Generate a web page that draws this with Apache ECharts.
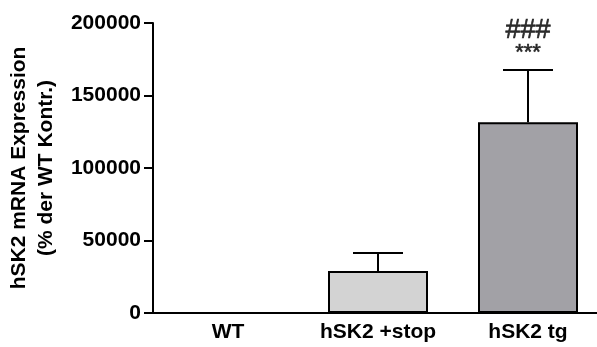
<!DOCTYPE html>
<html><head><meta charset="utf-8">
<script src="https://cdn.jsdelivr.net/npm/echarts@6/dist/echarts.min.js"></script>
<style>html,body{margin:0;padding:0;background:#fff}#c{width:597px;height:347px}</style>
</head><body><div id="c"></div>
<script>
var categories = ['WT', 'hSK2 +stop', 'hSK2 tg'];
var means = [100, 29000, 131500];
var errUpper = [100, 41300, 167600];
var barColors = ['#ffffff', '#d3d3d3', '#a2a1a6'];
var yTicks = [0, 50000, 100000, 150000, 200000];
var annotations = [
  {cat: 2, value: 179300, text: '***', size: 22},
  {cat: 2, value: 195000, text: '###', size: 27}
];

var chart = echarts.init(document.getElementById('c'), null, {renderer: 'canvas'});
var font = 'Liberation Sans, Arial, sans-serif';
chart.setOption({
  animation: false,
  grid: {left: 153, right: -6, top: 23, bottom: 34, containLabel: false, outerBoundsMode: 'none'},
  xAxis: {
    type: 'category', data: categories,
    axisLine: {lineStyle: {color: '#000', width: 2}},
    axisTick: {alignWithLabel: true, length: 7, lineStyle: {color: '#000', width: 2}},
    axisLabel: {color: '#000', fontWeight: 'bold', fontSize: 21, fontFamily: font, margin: 9,
      interval: 0, hideOverlap: false}
  },
  yAxis: {
    type: 'value', min: yTicks[0], max: yTicks[yTicks.length - 1], interval: 50000,
    splitLine: {show: false},
    axisLine: {show: true, lineStyle: {color: '#000', width: 2}},
    axisTick: {show: true, inside: false, length: 9, lineStyle: {color: '#000', width: 2}},
    axisLabel: {color: '#000', fontWeight: 'bold', fontSize: 21, fontFamily: font, margin: 12,
      formatter: function (v) { return String(v); }},
    name: 'hSK2 mRNA Expression\n(% der WT Kontr.)',
    nameLocation: 'middle', nameRotate: 90, nameGap: 92,
    nameTextStyle: {color: '#000', fontWeight: 'bold', fontSize: 21, fontFamily: font, lineHeight: 27}
  },
  series: [
    {
      type: 'bar', barWidth: 100,
      data: means.map(function (v, i) {
        return {value: v, itemStyle: {color: barColors[i], borderColor: '#000', borderWidth: 2}};
      })
    },
    {
      type: 'custom',
      data: means.map(function (v, i) { return [i, v, errUpper[i]]; }),
      renderItem: function (params, api) {
        var i = api.value(0);
        var lo = api.coord([i, api.value(1)]);
        var hi = api.coord([i, api.value(2)]);
        if (Math.abs(lo[1] - hi[1]) < 1) return;
        var half = 25;
        var st = {stroke: '#000', lineWidth: 2};
        return {type: 'group', children: [
          {type: 'line', shape: {x1: lo[0], y1: lo[1], x2: hi[0], y2: hi[1]}, style: st},
          {type: 'line', shape: {x1: hi[0] - half, y1: hi[1], x2: hi[0] + half, y2: hi[1]}, style: st}
        ]};
      },
      z: 3
    },
    {
      type: 'scatter', symbolSize: 0,
      data: annotations.map(function (a) {
        return {value: [a.cat, a.value], label: {show: true, position: 'inside', formatter: a.text,
          color: '#000', fontSize: a.size, fontFamily: font, textBorderColor: '#000', textBorderWidth: 0.6}};
      })
    }
  ]
});
</script></body></html>
